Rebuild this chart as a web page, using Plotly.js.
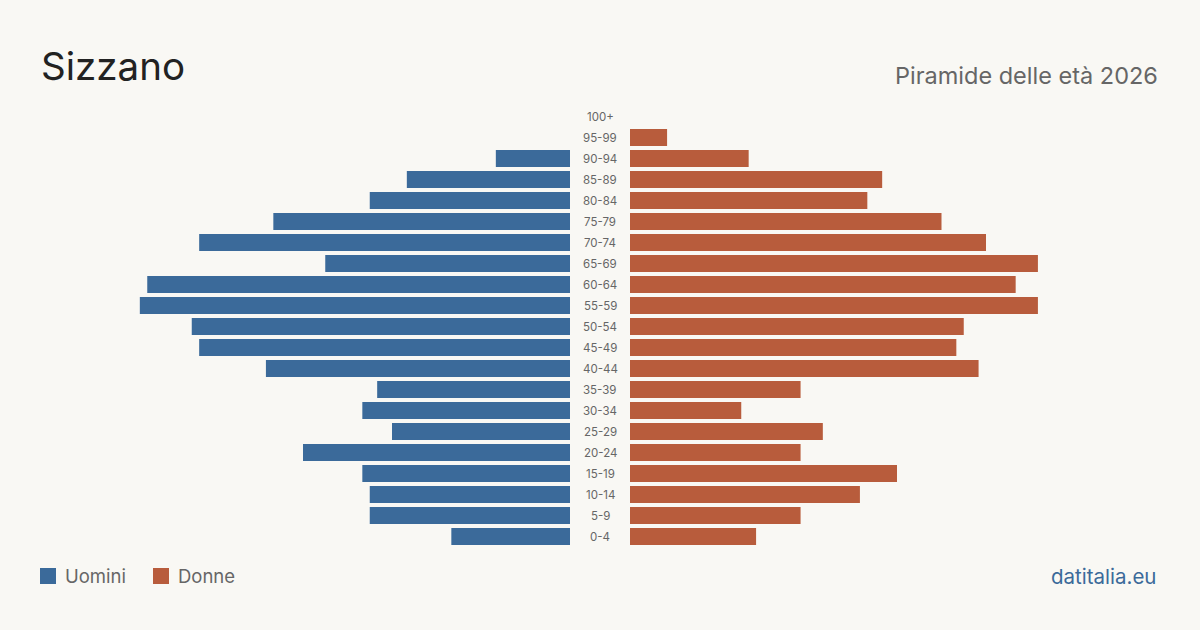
<!DOCTYPE html>
<html>
<head>
<meta charset="utf-8">
<script src="https://cdn.plot.ly/plotly-3.0.1.min.js"></script>
<style>
  html, body { margin: 0; padding: 0; background: #f9f8f4; }
  #chart { width: 1200px; height: 630px; }
</style>
</head>
<body>
<div id="chart"></div>
<script>
// Age groups, youngest first
const ageGroups = ["0-4","5-9","10-14","15-19","20-24","25-29","30-34","35-39","40-44","45-49",
                   "50-54","55-59","60-64","65-69","70-74","75-79","80-84","85-89","90-94","95-99","100+"];
// Residents by age group
const men   = [16, 27, 27, 28, 36, 24, 28, 26, 41, 50, 51, 58, 57, 33, 50, 40, 27, 22, 10, 0, 0];
const women = [17, 23, 31, 36, 23, 26, 15, 23, 47, 44, 45, 55, 52, 55, 48, 42, 32, 34, 16, 5, 0];

const seriesNames = ["Uomini", "Donne"];
const colMen = "#3b6a9a";
const colWomen = "#b85c3c";

const W = 1200, H = 630;
const M = { l: 0, r: 0, t: 106, b: 83 };
// pixel -> paper fraction (paper spans the plot area inside the margins)
const px = v => (v - M.l) / (W - M.l - M.r);
const py = v => (H - M.b - v) / (H - M.t - M.b);

const traces = [
  { type: "bar", orientation: "h", name: seriesNames[0], y: ageGroups, x: men,
    xaxis: "x", yaxis: "y", marker: { color: colMen }, hoverinfo: "skip" },
  { type: "bar", orientation: "h", name: seriesNames[1], y: ageGroups, x: women,
    xaxis: "x2", yaxis: "y", marker: { color: colWomen }, hoverinfo: "skip" }
];

const labelFont = { family: "Inter, 'Open Sans', sans-serif", size: 11.5, color: "#666666" };
const annotations = ageGroups.map(g => ({
  xref: "paper", yref: "y", x: 0.5, y: g, text: g, showarrow: false,
  xanchor: "center", yanchor: "middle", font: labelFont
}));

annotations.push(
  { xref: "paper", yref: "paper", x: px(39), y: py(66), text: "Sizzano", showarrow: false,
    xanchor: "left", yanchor: "middle", font: { family: "Inter, sans-serif", size: 38.5, color: "#222222" } },
  { xref: "paper", yref: "paper", x: px(1160), y: py(76), text: "Piramide delle età 2026", showarrow: false,
    xanchor: "right", yanchor: "middle", font: { family: "Inter, sans-serif", size: 23.5, color: "#666666" } },
  { xref: "paper", yref: "paper", x: px(63), y: py(576), text: seriesNames[0], showarrow: false,
    xanchor: "left", yanchor: "middle", font: { family: "Inter, sans-serif", size: 18.5, color: "#666666" } },
  { xref: "paper", yref: "paper", x: px(176), y: py(576), text: seriesNames[1], showarrow: false,
    xanchor: "left", yanchor: "middle", font: { family: "Inter, sans-serif", size: 18.5, color: "#666666" } },
  { xref: "paper", yref: "paper", x: px(1158), y: py(576), text: "datitalia.eu", showarrow: false,
    xanchor: "right", yanchor: "middle", font: { family: "Inter, sans-serif", size: 20.5, color: "#3b6a9a" } }
);

const shapes = [
  { type: "rect", xref: "paper", yref: "paper", x0: px(40), x1: px(56), y0: py(568), y1: py(584),
    fillcolor: colMen, line: { width: 0 } },
  { type: "rect", xref: "paper", yref: "paper", x0: px(153), x1: px(169), y0: py(568), y1: py(584),
    fillcolor: colWomen, line: { width: 0 } }
];

const layout = {
  width: W, height: H,
  paper_bgcolor: "#f9f8f4", plot_bgcolor: "#f9f8f4",
  margin: { l: M.l, r: M.r, t: M.t, b: M.b, pad: 0 },
  showlegend: false,
  bargap: 0.19,
  xaxis: { domain: [px(125), px(570)], range: [60, 0], visible: false, fixedrange: true },
  xaxis2: { domain: [px(630), px(1075)], range: [0, 60], visible: false, anchor: "y", fixedrange: true },
  yaxis: { type: "category", categoryorder: "array", categoryarray: ageGroups,
           range: [-0.5, ageGroups.length - 0.5], visible: false, fixedrange: true },
  annotations: annotations,
  shapes: shapes
};

Plotly.newPlot("chart", traces, layout, { staticPlot: true, displayModeBar: false });
</script>
</body>
</html>
